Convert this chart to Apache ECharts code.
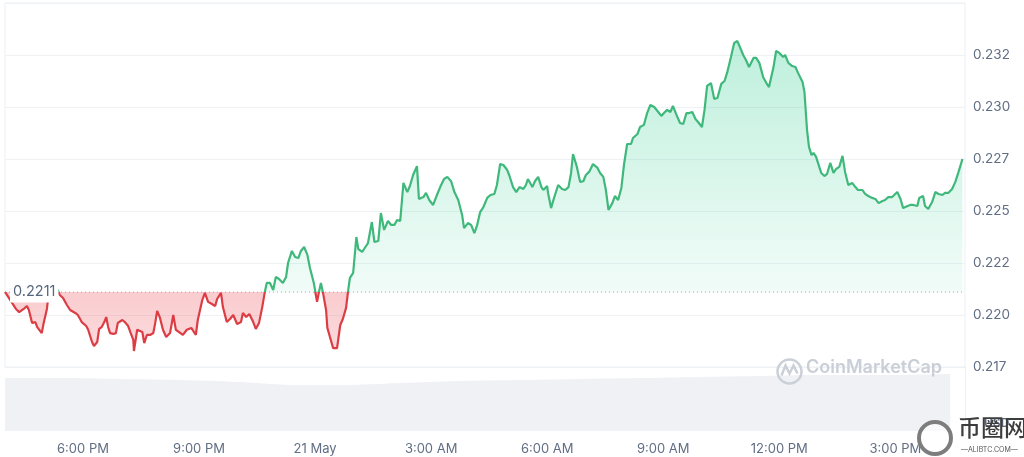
<!DOCTYPE html>
<html>
<head>
<meta charset="utf-8">
<script src="https://cdn.jsdelivr.net/npm/echarts@6/dist/echarts.min.js"></script>
<style>
html,body{margin:0;padding:0;background:#fff;}
#chart{width:1024px;height:457px;}
</style>
</head>
<body>
<div id="chart"></div>
<script>
// time in minutes relative to 20 May 6:00 PM
const times = [
-121,-116,-110,-104,-99,-96,-92,-87,-84,-79,
-74,-71,-64,-61,-56,-53,-48,-43,-39,-36,
-31,-25,-20,-12,-8,-2,5,8,14,17,
22,25,29,33,36,39,42,47,51,54,
61,65,70,74,78,79,84,87,92,95,
99,104,109,112,115,119,124,129,132,135,
140,144,149,155,161,168,171,175,178,185,
189,194,200,205,208,214,217,223,228,233,
239,245,248,253,258,264,268,273,278,282,
285,290,295,299,304,310,315,318,324,329,
334,338,343,348,352,358,363,366,369,372,
377,379,383,388,394,399,403,408,411,414,
419,424,427,433,438,442,448,452,458,462,
467,473,478,483,487,492,497,503,507,512,
518,521,528,532,537,543,549,554,560,565,
571,576,582,588,591,597,602,607,611,616,
621,627,632,638,642,647,652,658,661,667,
672,677,683,687,690,697,701,706,711,714,
720,721,726,731,737,743,748,753,757,760,
766,771,776,780,785,791,798,802,807,811,
815,821,825,830,835,839,844,850,853,860,
864,870,875,880,886,891,897,901,906,911,
915,920,926,931,936,940,945,950,954,960,
964,968,974,979,984,990,995,999,1005,1010,
1015,1018,1024,1029,1033,1040,1044,1049,1055,1060,
1064,1071,1075,1080,1086,1089,1094,1100,1105,1109,
1116,1119,1123,1126,1130,1133,1137,1140,1145,1150,
1154,1159,1164,1168,1173,1178,1182,1187,1193,1198,
1202,1209,1213,1218,1224,1229,1234,1240,1244,1249,
1255,1258,1263,1268,1272,1279,1283,1288,1294,1297,
1303,1306,1311,1317,1322,1327,1333,1337,1342,1348,
1353,1358,1364
];
const prices = [
0.22111,0.22087,0.22058,0.22029,0.22014,0.22010,0.22029,0.22043,0.22024,0.21962,
0.21966,0.21942,0.21913,0.21962,0.22029,0.22111,0.22125,0.22130,0.22120,0.22096,
0.22082,0.22048,0.22024,0.22010,0.22000,0.21966,0.21947,0.21929,0.21870,0.21851,
0.21870,0.21933,0.21942,0.21966,0.21990,0.21942,0.21913,0.21909,0.21913,0.21962,
0.21976,0.21966,0.21947,0.21913,0.21880,0.21827,0.21929,0.21933,0.21918,0.21865,
0.21904,0.21904,0.21913,0.21962,0.22019,0.21990,0.21929,0.21894,0.21894,0.21913,
0.22000,0.21929,0.21918,0.21904,0.21929,0.21938,0.21933,0.21904,0.21976,0.22072,
0.22106,0.22063,0.22053,0.22043,0.22077,0.22106,0.22038,0.21966,0.21981,0.22000,
0.21957,0.21966,0.22010,0.21990,0.22005,0.21966,0.21933,0.21962,0.22038,0.22111,
0.22154,0.22154,0.22120,0.22183,0.22173,0.22154,0.22183,0.22250,0.22308,0.22279,
0.22274,0.22308,0.22327,0.22289,0.22226,0.22154,0.22063,0.22111,0.22154,0.22111,
0.22024,0.21938,0.21894,0.21841,0.21841,0.21952,0.21981,0.22034,0.22111,0.22179,
0.22202,0.22375,0.22317,0.22303,0.22327,0.22346,0.22447,0.22351,0.22356,0.22490,
0.22409,0.22452,0.22433,0.22433,0.22457,0.22452,0.22635,0.22591,0.22620,0.22673,
0.22716,0.22558,0.22567,0.22587,0.22553,0.22529,0.22577,0.22615,0.22654,0.22664,
0.22643,0.22591,0.22553,0.22481,0.22418,0.22442,0.22433,0.22394,0.22428,0.22495,
0.22519,0.22563,0.22577,0.22582,0.22625,0.22726,0.22721,0.22697,0.22673,0.22615,
0.22591,0.22615,0.22606,0.22625,0.22654,0.22615,0.22643,0.22664,0.22615,0.22601,
0.22620,0.22591,0.22514,0.22567,0.22625,0.22606,0.22601,0.22615,0.22683,0.22774,
0.22712,0.22640,0.22643,0.22673,0.22688,0.22726,0.22707,0.22683,0.22664,0.22601,
0.22505,0.22538,0.22572,0.22553,0.22611,0.22721,0.22822,0.22822,0.22851,0.22870,
0.22904,0.22914,0.22971,0.23010,0.23000,0.22981,0.22957,0.22971,0.22986,0.22976,
0.23005,0.22966,0.22923,0.22918,0.22971,0.22971,0.22976,0.22942,0.22928,0.22904,
0.22986,0.23101,0.23115,0.23039,0.23043,0.23111,0.23125,0.23164,0.23240,0.23308,
0.23317,0.23313,0.23250,0.23221,0.23192,0.23236,0.23236,0.23212,0.23143,0.23115,
0.23096,0.23192,0.23269,0.23260,0.23240,0.23250,0.23212,0.23197,0.23192,0.23164,
0.23120,0.23072,0.22889,0.22808,0.22769,0.22779,0.22760,0.22731,0.22683,0.22668,
0.22678,0.22731,0.22683,0.22702,0.22712,0.22765,0.22688,0.22625,0.22635,0.22615,
0.22601,0.22601,0.22582,0.22572,0.22563,0.22558,0.22538,0.22548,0.22553,0.22567,
0.22567,0.22563,0.22591,0.22558,0.22514,0.22524,0.22529,0.22529,0.22524,0.22563,
0.22572,0.22524,0.22510,0.22543,0.22591,0.22582,0.22577,0.22587,0.22587,0.22606,
0.22640,0.22688,0.22750
];
const baseline = 0.2211;

// volume (relative units), time in minutes from 6:00 PM
const volTimes  = [-121,-36,57,150,244,337,399,492,585,678,771,864,957,1050,1144,1237,1345];
const volValues = [82.8,82.8,81.3,79.7,76.6,71.9,71.9,75.0,78.1,79.7,81.3,82.8,84.4,85.9,87.5,87.5,89.1];

const xTickValues = [0,180,360,540,720,900,1080,1260];
const xTickLabels = ['6:00 PM','9:00 PM','21 May','3:00 AM','6:00 AM','9:00 AM','12:00 PM','3:00 PM'];
const yTickValues = [0.2175,0.22,0.2225,0.225,0.2275,0.23,0.2325];
const yTickLabels = ['0.217','0.220','0.222','0.225','0.227','0.230','0.232'];

const GREEN = '#3fb87b';
const RED = '#dc3d44';
const X_MIN = -121, X_MAX = 1368;
const Y_MIN = 0.2175, Y_MAX = 0.235;
const n = Math.min(times.length, prices.length);
const lineData = [], upData = [], downData = [];
for (let i = 0; i < n; i++) {
  lineData.push([times[i], prices[i]]);
  upData.push([times[i], Math.max(prices[i], baseline)]);
  downData.push([times[i], Math.min(prices[i], baseline)]);
}
const baseData = [[X_MIN, baseline], [X_MAX, baseline]];
const volData = volTimes.map((t, i) => [t, volValues[i]]);

const FONT = 'Inter, Roboto, sans-serif';
const chart = echarts.init(document.getElementById('chart'), null, {renderer: 'canvas'});
chart.setOption({
  animation: false,
  backgroundColor: '#ffffff',
  grid: [
    {left: 5, right: 59, top: 3, bottom: 90, show: true, borderColor: '#eceff3', borderWidth: 1},
    {left: 5, right: 59, top: 367, bottom: 26}
  ],
  xAxis: [
    {type: 'value', gridIndex: 0, min: X_MIN, max: X_MAX, show: false},
    {type: 'value', gridIndex: 1, min: X_MIN, max: X_MAX,
     axisLine: {show: false}, axisTick: {show: false}, splitLine: {show: false},
     axisLabel: {
       customValues: xTickValues, margin: 12, color: '#616e85', fontSize: 13, fontFamily: FONT,
       formatter: function (v) {
         const i = xTickValues.indexOf(Math.round(v));
         return i >= 0 ? xTickLabels[i] : '';
       }
     }}
  ],
  yAxis: [
    {type: 'value', gridIndex: 0, position: 'right', min: Y_MIN, max: Y_MAX, interval: 0.0025,
     axisLine: {show: false}, axisTick: {show: false},
     splitLine: {show: true, lineStyle: {color: '#eff2f5', width: 1}},
     axisLabel: {
       margin: 8, color: '#616e85', fontSize: 13.5, fontFamily: FONT,
       formatter: function (v) {
         for (let i = 0; i < yTickValues.length; i++) {
           if (Math.abs(yTickValues[i] - v) < 1e-6) return yTickLabels[i];
         }
         return '';
       }
     }},
    {type: 'value', gridIndex: 1, position: 'right', min: 0, max: 100,
     axisLine: {show: true, onZero: false, lineStyle: {color: '#eceff3'}}, axisTick: {show: false},
     axisLabel: {show: false}, splitLine: {show: false}}
  ],
  series: [
    {type: 'line', xAxisIndex: 1, yAxisIndex: 1, data: volData, smooth: 0.4,
     showSymbol: false, silent: true, lineStyle: {width: 0},
     areaStyle: {color: '#eff1f5', opacity: 1}},
    {type: 'line', xAxisIndex: 0, yAxisIndex: 0, data: upData, showSymbol: false, silent: true,
     lineStyle: {width: 0},
     areaStyle: {origin: baseline, opacity: 1,
       color: new echarts.graphic.LinearGradient(0, 0, 0, 1, [
         {offset: 0, color: 'rgba(22,199,132,0.28)'},
         {offset: 1, color: 'rgba(22,199,132,0.06)'}
       ])}},
    {type: 'line', xAxisIndex: 0, yAxisIndex: 0, data: downData, showSymbol: false, silent: true,
     lineStyle: {width: 0},
     areaStyle: {origin: baseline, opacity: 1,
       color: new echarts.graphic.LinearGradient(0, 0, 0, 1, [
         {offset: 0, color: 'rgba(234,57,67,0.26)'},
         {offset: 1, color: 'rgba(234,57,67,0.18)'}
       ])}},
    {type: 'line', xAxisIndex: 0, yAxisIndex: 0, data: baseData, showSymbol: false, silent: true, z: 3,
     lineStyle: {color: '#a3abb8', type: [1, 3], width: 1}},
    {id: 'price', type: 'line', xAxisIndex: 0, yAxisIndex: 0, data: lineData, showSymbol: false, z: 4,
     lineStyle: {width: 2.2, color: GREEN}}
  ],
  graphic: [
    {id: 'cmcRing', type: 'circle', left: 775, top: 357, shape: {r: 12}, style: {fill: 'none', stroke: '#cbd0d8', lineWidth: 2.5}, z: 10},
    {id: 'cmcM', type: 'polyline', left: 779, top: 363, shape: {points: [[0, 12], [4, 2], [8, 10], [12, 2], [16, 10]]},
     style: {fill: 'none', stroke: '#cbd0d8', lineWidth: 2.5}, z: 10},
    {id: 'cmcText', type: 'text', left: 806, top: 359, style: {text: 'CoinMarketCap', fill: '#c9ced7', font: '600 18px Inter, sans-serif'}, z: 10},
    {id: 'usd', type: 'text', left: 984, top: 417, style: {text: 'USD', fill: '#58667e', font: '600 12px Inter, sans-serif'}, z: 10},
    {id: 'wmRing', type: 'circle', left: 917, top: 420, shape: {r: 16}, style: {fill: 'rgba(255,255,255,0.6)', stroke: '#7d7d7d', lineWidth: 4}, z: 11},
    {id: 'wmText', type: 'text', left: 958, top: 416, style: {text: '币圈网', fill: '#3d3d3d', font: '500 23px "Noto Sans CJK SC", sans-serif'}, z: 11},
    {id: 'wmSub', type: 'text', left: 961, top: 446, style: {text: '—ALIBTC.COM—', fill: '#555555', font: '7px Inter, sans-serif'}, z: 11}
  ]
});

// colour the price line green above the baseline and red below, using the axis scale
const yTop = chart.convertToPixel({gridIndex: 0}, [0, Y_MAX])[1];
const yBot = chart.convertToPixel({gridIndex: 0}, [0, Y_MIN])[1];
const yBase = chart.convertToPixel({gridIndex: 0}, [0, baseline])[1];
const f = (yBase - yTop) / (yBot - yTop);
const xLeft = chart.convertToPixel({gridIndex: 0}, [X_MIN, baseline])[0];
chart.setOption({
  series: [{id: 'price', lineStyle: {color: new echarts.graphic.LinearGradient(0, yTop, 0, yBot, [
    {offset: 0, color: GREEN}, {offset: f, color: GREEN},
    {offset: f, color: RED}, {offset: 1, color: RED}
  ], true)}}],
  graphic: [
    {id: 'baseLabel', type: 'text', x: xLeft + 5, y: yBase, z: 20,
     style: {text: String(baseline), fill: '#58667e', font: '14.5px Inter, sans-serif',
       verticalAlign: 'middle', backgroundColor: '#ffffff', padding: [3, 3]}}
  ]
});
</script>
</body>
</html>
